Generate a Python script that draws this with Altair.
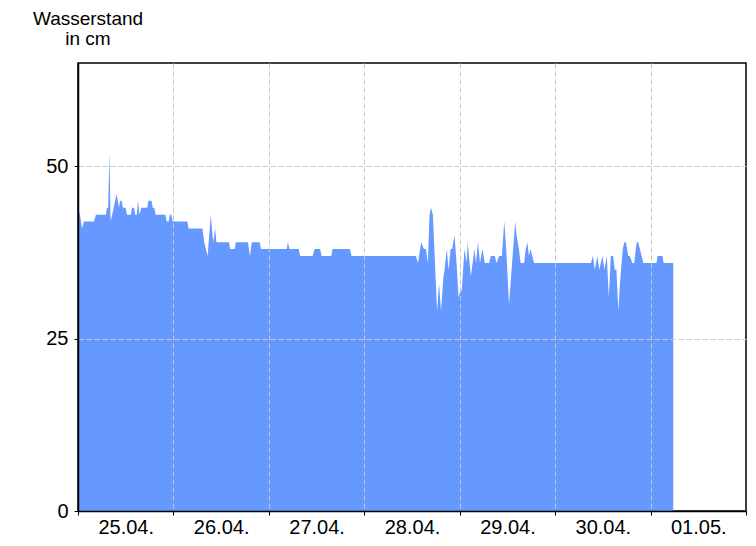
import altair as alt
import pandas as pd

# hours since 25.04. 00:00 and water level in cm
hours = [
    0, 0.5, 1, 1.5, 4, 4.5, 7, 7.3, 7.6, 7.9, 8.2, 8.6, 9.7, 10.0, 10.3, 10.6, 11.0, 11.3,
    12.0, 12.3, 13.3, 13.6, 14.1, 14.4, 14.8, 15.1, 15.5, 15.9, 17.4, 17.7, 18.5, 18.8,
    19.2, 19.5, 22.0, 22.3, 22.8, 23.1, 23.5, 23.8,
    24.2, 27.5, 27.8, 31.3, 31.75, 32.6, 33.4, 34.0, 34.5, 34.8, 38.0, 38.25, 39.4, 39.7,
    42.75, 43.25, 43.7, 45.7, 46.0, 52.5, 52.8, 53.2, 55.5, 55.9, 59.0, 59.5, 60.9, 61.25,
    63.7, 64.0, 68.4, 68.8, 85.0,
    85.5, 86.3, 87.0, 87.5, 88.0, 88.4, 88.8, 89.25, 90.3, 90.8, 91.3, 91.9, 92.2, 92.75,
    93.2, 93.7, 94.1, 94.7, 95.2, 95.7, 96.2, 96.5, 97.2, 97.75, 98.0, 98.8, 99.7, 100.1,
    100.6, 101.1, 101.7, 102.3, 103.4, 103.8, 104.8, 105.3, 105.9, 106.6, 107.2, 107.7,
    108.4, 109.95, 110.3, 110.9, 111.3, 112.2, 112.6, 113.0, 113.4, 113.8, 114.25, 114.7,
    129.0,
    129.5, 130.0, 130.6, 131.1, 131.9, 132.4, 133.0, 133.5, 134.0, 134.6, 135.0, 135.4,
    135.9, 136.3, 137.0, 137.4, 137.8, 138.4, 138.8, 139.4, 139.9, 140.5, 140.9, 141.3,
    141.75, 142.2, 145.5, 145.75, 147.0, 147.3, 149.7,
]
level = [
    44, 43, 41, 42, 42, 43, 43, 44, 44, 52, 42, 43, 46, 45, 44, 45, 45, 44,
    44, 43, 43, 44, 44, 43, 43, 45, 43, 44, 44, 45, 45, 44,
    44, 43, 43, 42, 42, 43, 43, 42,
    42, 42, 41, 41, 39, 37, 43, 39, 41, 39, 39, 38, 38, 39,
    39, 37, 39, 39, 38, 38, 39, 38, 38, 37, 37, 38, 38, 37,
    37, 38, 38, 37, 37,
    36, 39, 38, 38, 36, 43, 44, 43, 29, 33, 29, 34, 35, 38,
    35, 38, 38, 40, 36, 31, 32, 32, 38, 36, 39, 34, 38, 36,
    39, 36, 38, 36, 36, 37, 37, 36, 37, 37, 42, 38,
    30, 42, 40, 38, 36, 36, 38, 39, 37, 38, 37, 36,
    36,
    37, 35, 37, 35, 37, 35, 37, 31, 37, 37, 35, 35,
    29, 33, 38, 39, 39, 37, 37, 36, 36, 39, 39, 38,
    37, 36, 36, 37, 37, 36, 36,
]
day_labels = ["25.04.", "26.04.", "27.04.", "28.04.", "29.04.", "30.04.", "01.05."]
y_ticks = [0, 25, 50]
title_lines = ["Wasserstand", "in cm"]

FONT = "Liberation Sans"
FS = 20

df = pd.DataFrame({"h": hours, "cm": level})

x_vals = list(range(0, 169, 12))
arr = "[" + ",".join("'" + d + "'" for d in day_labels) + "]"
label_expr = "datum.value % 24 == 12 ? " + arr + "[floor(datum.value / 24)] : ''"

x_axis = alt.Axis(
    values=x_vals,
    labelExpr=label_expr,
    title=None,
    grid=True,
    gridColor="#c8c8c8",
    gridDash=[5, 3],
    gridWidth=1,
    gridOpacity={"condition": {"test": "datum.value % 24 != 0 || datum.value == 0 || datum.value == 168", "value": 0}, "value": 1},
    tickOpacity={"condition": {"test": "datum.value % 24 == 12", "value": 0}, "value": 1},
    tickSize=4,
    tickColor="black",
    domainColor="black",
    domainWidth=1.5,
    labelFont=FONT,
    labelFontSize=FS,
    labelColor="black",
    labelPadding=2,
    labelFlush=False,
    labelOverlap=False,
    zindex=1,
)

y_axis = alt.Axis(
    values=y_ticks,
    title=None,
    grid=True,
    gridColor="#c8c8c8",
    gridDash=[5, 3],
    gridWidth=1,
    gridOpacity={"condition": {"test": "datum.value == 0", "value": 0}, "value": 1},
    tickSize=4,
    tickColor="black",
    domainColor="black",
    domainWidth=1.5,
    labelFont=FONT,
    labelFontSize=FS,
    labelColor="black",
    labelPadding=6,
    zindex=1,
)

area = alt.Chart(df).mark_area(color="#6699ff", interpolate="linear", opacity=1).encode(
    x=alt.X("h:Q", scale=alt.Scale(domain=[0, 168], nice=False, zero=False), axis=x_axis),
    y=alt.Y("cm:Q", scale=alt.Scale(domain=[0, 65], nice=False), axis=y_axis),
)

t1 = alt.Chart(pd.DataFrame({"t": [title_lines[0]]})).mark_text(
    font=FONT, fontSize=19, align="center", baseline="alphabetic", color="black"
).encode(text="t:N", x=alt.value(10), y=alt.value(-38))

t2 = alt.Chart(pd.DataFrame({"t": [title_lines[1]]})).mark_text(
    font=FONT, fontSize=19, align="center", baseline="alphabetic", color="black"
).encode(text="t:N", x=alt.value(10), y=alt.value(-18.5))

chart = alt.layer(area, t1, t2).properties(
    width=668,
    height=448,
    autosize=alt.AutoSizeParams(type="none"),
    padding={"left": 70, "top": 55, "right": 2, "bottom": 27},
    background="white",
).configure_view(stroke="black", strokeWidth=1.5)

chart.save("out.html", embed_options={"renderer": "svg", "actions": False})
